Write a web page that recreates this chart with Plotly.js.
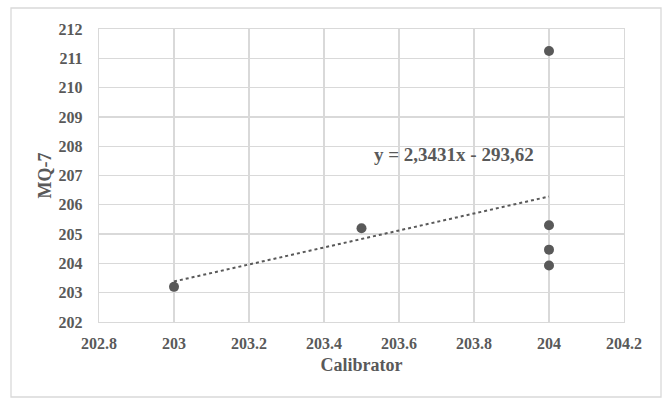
<!DOCTYPE html>
<html><head><meta charset="utf-8">
<script src="https://cdn.plot.ly/plotly-3.0.1.min.js"></script>
<style>html,body{margin:0;padding:0;background:#fff;}#chart{width:666px;height:399px;}</style>
</head><body><div id="chart"></div>
<script>
// Data
const calibrator = [203, 203.5, 204, 204, 204, 204];
const mq7 = [203.2, 205.2, 211.25, 205.3, 204.47, 203.93];
const xTicks = [202.8, 203, 203.2, 203.4, 203.6, 203.8, 204, 204.2];
const xTickText = ['202.8', '203', '203.2', '203.4', '203.6', '203.8', '204', '204.2'];
const yTicks = [202, 203, 204, 205, 206, 207, 208, 209, 210, 211, 212];
const yTickText = ['202', '203', '204', '205', '206', '207', '208', '209', '210', '211', '212'];
const equationText = 'y = 2,3431x - 293,62';

// least-squares trendline (as the spreadsheet draws it) over the data span
const n = calibrator.length;
const mx = calibrator.reduce((a, b) => a + b, 0) / n;
const my = mq7.reduce((a, b) => a + b, 0) / n;
let sxy = 0, sxx = 0;
for (let i = 0; i < n; i++) { sxy += (calibrator[i] - mx) * (mq7[i] - my); sxx += (calibrator[i] - mx) ** 2; }
const slope = sxy / sxx, icpt = my - slope * mx;
const xmin = Math.min(...calibrator), xmax = Math.max(...calibrator);
const trendX = [xmin, xmax];
const trendY = trendX.map(x => slope * x + icpt);

const gray = '#595959';
const font = {family: '"Liberation Serif", "Times New Roman", serif', color: gray};
const bold = s => '<b>' + s + '</b>';

const data = [
  {x: trendX, y: trendY, mode: 'lines', line: {color: gray, width: 2, dash: 'dot'}, hoverinfo: 'skip', showlegend: false},
  {x: calibrator, y: mq7, mode: 'markers', marker: {color: gray, size: 10}, showlegend: false}
];

const layout = {
  width: 666, height: 399,
  margin: {l: 99, r: 42, t: 29, b: 77},
  paper_bgcolor: '#fff', plot_bgcolor: '#fff',
  font: Object.assign({}, font, {size: 16}),
  xaxis: {
    range: [202.8, 204.2], tickvals: xTicks, ticktext: xTickText.map(bold),
    showgrid: true, gridcolor: '#d9d9d9', gridwidth: 1.3, zeroline: false,
    showline: true, linecolor: '#d9d9d9', linewidth: 1.3, mirror: true,
    ticks: '', ticklabelstandoff: 6,
    tickfont: Object.assign({}, font, {size: 16}),
    title: {text: bold('Calibrator'), font: Object.assign({}, font, {size: 18}), standoff: 8}
  },
  yaxis: {
    range: [202, 212], tickvals: yTicks, ticktext: yTickText.map(bold),
    showgrid: true, gridcolor: '#d9d9d9', gridwidth: 1.3, zeroline: false,
    showline: true, linecolor: '#d9d9d9', linewidth: 1.3, mirror: true,
    ticks: '', ticklabelstandoff: 12,
    tickfont: Object.assign({}, font, {size: 16}),
    title: {text: bold('MQ-7'), font: Object.assign({}, font, {size: 18}), standoff: 2}
  },
  annotations: [{
    x: 203.747, y: 207.7, xref: 'x', yref: 'y', text: bold(equationText),
    showarrow: false, font: Object.assign({}, font, {size: 19}), xanchor: 'center', yanchor: 'middle'
  }],
  shapes: [{
    type: 'rect', xref: 'paper', yref: 'paper', x0: -0.1676, x1: 1.0705, y0: -0.256, y1: 1.0717,
    line: {color: '#d9d9d9', width: 1.3}, fillcolor: 'rgba(0,0,0,0)', layer: 'below'
  }]
};

Plotly.newPlot('chart', data, layout, {displayModeBar: false, staticPlot: true});
</script></body></html>
